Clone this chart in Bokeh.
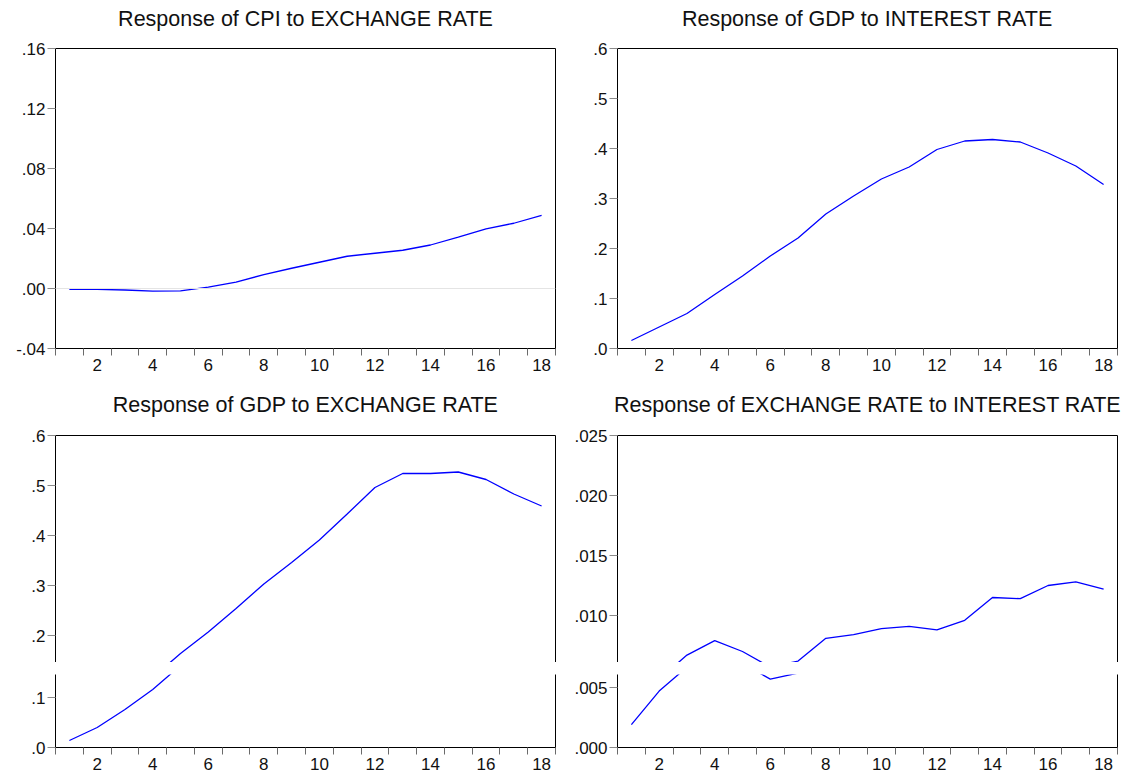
from bokeh.plotting import figure
from bokeh.layouts import column, row
from bokeh.models import Range1d, LinearAxis, FixedTicker, CustomJSTickFormatter, Span
from bokeh.embed import file_html
from bokeh.resources import INLINE

# Impulse responses over an 18-period horizon
periods = list(range(1, 19))
cpi_to_exchange_rate = [-0.0005, -0.0006, -0.0010, -0.0018, -0.0016, 0.0009, 0.0042, 0.0093, 0.0135,
                        0.0175, 0.0215, 0.0235, 0.0255, 0.0290, 0.0343, 0.0398, 0.0435, 0.0488]
gdp_to_interest_rate = [0.016, 0.043, 0.070, 0.108, 0.145, 0.185, 0.221, 0.269, 0.305,
                        0.339, 0.363, 0.398, 0.415, 0.418, 0.413, 0.391, 0.365, 0.328]
gdp_to_exchange_rate = [0.014, 0.040, 0.076, 0.116, 0.164, 0.207, 0.254, 0.303, 0.346,
                        0.391, 0.443, 0.496, 0.524, 0.524, 0.527, 0.512, 0.483, 0.459]
exchange_rate_to_interest_rate = [0.0019, 0.0047, 0.0067, 0.0079, 0.0070, 0.0057, 0.0062, 0.0081, 0.0084,
                                  0.0089, 0.0091, 0.0088, 0.0096, 0.0115, 0.0114, 0.0125, 0.0128, 0.0122]

titles = ["Response of CPI to EXCHANGE RATE", "Response of GDP to INTEREST RATE",
          "Response of GDP to EXCHANGE RATE", "Response of EXCHANGE RATE to INTEREST RATE"]

x_labels = list(range(2, 19, 2))
band_edges = [i + 0.5 for i in range(0, 19)]

FONT = "Liberation Sans"
LINE_BLUE = "#0000ff"
TICK_FS = "17px"
TITLE_FS = "21.5px"

FRAME_W = 500
FRAME_H = 300
UPPER_H = 227          # upper piece of a broken panel
LOWER_H = FRAME_H - UPPER_H
GAP = 12               # white strip between the two pieces


def fmt(nd):
    return CustomJSTickFormatter(args=dict(nd=nd), code=r"""
        const s = tick.toFixed(nd);
        return s.replace(/^(-?)0\./, '$1.');
    """)


def edge_axis():
    # a bare axis line used as a frame edge
    return LinearAxis(ticker=FixedTicker(ticks=[]), axis_line_color="black", axis_line_width=1,
                      major_tick_line_color=None, minor_tick_line_color=None,
                      major_tick_out=0, major_tick_in=0, minor_tick_out=0, minor_tick_in=0,
                      major_label_standoff=0, major_label_text_font_size="0px")


def panel(series, y0, y1, yticks, nd, frame_h, left, right, top, bottom,
          title=None, top_edge=True, x_axis=True, zero_line=False, title_lift=18):
    p = figure(frame_width=FRAME_W, frame_height=frame_h,
               x_range=Range1d(0.5, 18.5), y_range=Range1d(y0, y1),
               x_axis_location=None, y_axis_location=None,
               output_backend="svg", toolbar_location=None,
               min_border_left=left, min_border_right=right,
               min_border_top=top, min_border_bottom=bottom)
    p.outline_line_color = None
    p.xgrid.visible = False
    p.ygrid.visible = False
    p.background_fill_color = "white"
    p.border_fill_color = "white"

    yax = LinearAxis(ticker=FixedTicker(ticks=yticks), formatter=fmt(nd),
                     axis_line_color="black", major_tick_out=8, major_tick_in=0,
                     major_tick_line_color="#8a8a8a", minor_tick_line_color=None,
                     major_label_text_font=FONT, major_label_text_font_size=TICK_FS,
                     major_label_text_color="#111111", major_label_standoff=2)
    p.add_layout(yax, "left")
    p.add_layout(edge_axis(), "right")
    if top_edge:
        p.add_layout(edge_axis(), "above")
    if x_axis:
        xax = LinearAxis(ticker=FixedTicker(ticks=x_labels, minor_ticks=band_edges),
                         axis_line_color="black", major_tick_line_color=None,
                         major_tick_out=7, major_tick_in=0,
                         minor_tick_out=7, minor_tick_in=0, minor_tick_line_color="#6a6a6a",
                         major_label_text_font=FONT, major_label_text_font_size=TICK_FS,
                         major_label_text_color="#111111", major_label_standoff=3)
        p.add_layout(xax, "below")

    if zero_line:
        p.add_layout(Span(location=0, dimension="width", line_color="#e4e4e4", line_width=1))

    p.line(periods, series, line_color=LINE_BLUE, line_width=1.3)

    if title:
        p.title.text = title
        p.title.align = "center"
        p.title.vertical_align = "bottom"
        p.title.text_font = FONT
        p.title.text_font_size = TITLE_FS
        p.title.text_font_style = "normal"
        p.title.text_color = "#111111"
        p.title.standoff = 0
        p.title.padding = dict(left=0, right=0, top=0, bottom=title_lift)
    return p


# top row
tl = panel(cpi_to_exchange_rate, -0.04, 0.16, [-0.04, 0.0, 0.04, 0.08, 0.12, 0.16], 2,
           FRAME_H, 55, 7, 48, 42, title=titles[0], zero_line=True, title_lift=18)
tr = panel(gdp_to_interest_rate, 0.0, 0.6, [0.0, 0.1, 0.2, 0.3, 0.4, 0.5, 0.6], 1,
           FRAME_H, 55, 22, 48, 42, title=titles[1], title_lift=18)


# bottom row: each panel is split into an upper and a lower piece
def broken_panel(series, top_val, ticks, nd, left, right, title):
    cut = top_val * LOWER_H / FRAME_H
    up_ticks = [t for t in ticks if t >= cut]
    low_ticks = [t for t in ticks if t < cut]
    upper = panel(series, cut, top_val, up_ticks, nd, UPPER_H, left, right, 45, 0,
                  title=title, top_edge=True, x_axis=False, title_lift=19)
    lower = panel(series, 0.0, cut, low_ticks, nd, LOWER_H, left, right, GAP, 32,
                  top_edge=False, x_axis=True)
    return column(upper, lower, spacing=0)


bl = broken_panel(gdp_to_exchange_rate, 0.6, [0.0, 0.1, 0.2, 0.3, 0.4, 0.5, 0.6], 1, 55, 7, titles[2])
br = broken_panel(exchange_rate_to_interest_rate, 0.025, [0.0, 0.005, 0.010, 0.015, 0.020, 0.025], 3,
                  55, 22, titles[3])

page = column(row(tl, tr, spacing=0), row(bl, br, spacing=0), spacing=0)

open("out.html", "w").write(file_html(page, INLINE))
